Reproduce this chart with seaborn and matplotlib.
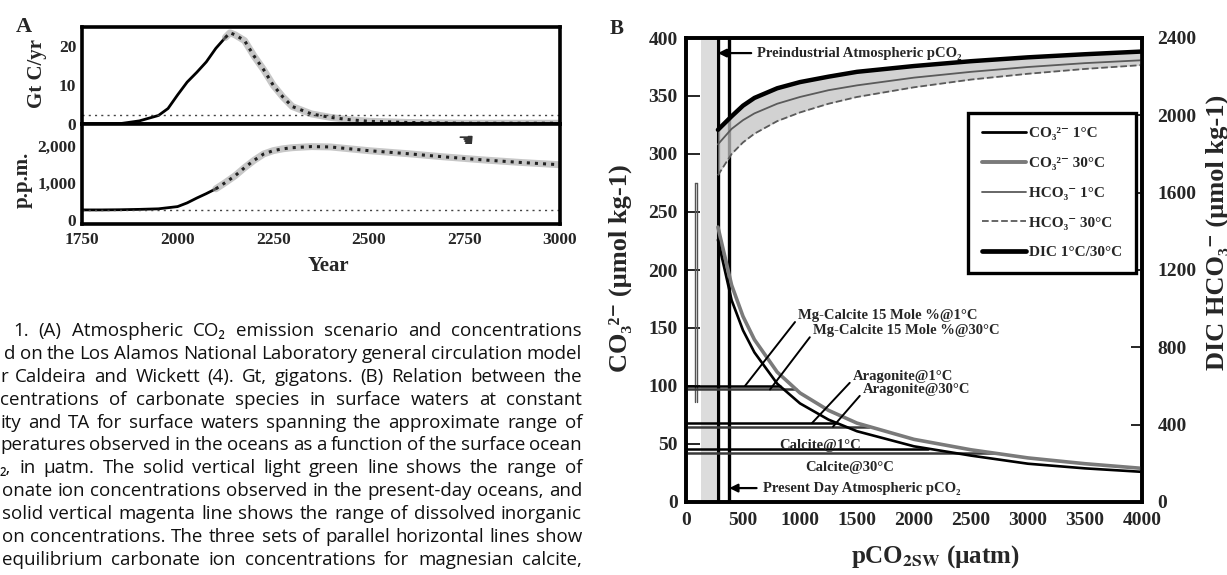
import numpy as np
import pandas as pd
import matplotlib
matplotlib.use("Agg")
import matplotlib.pyplot as plt
import seaborn as sns
from matplotlib.lines import Line2D

# ---------------- Panel A: emission scenario and atmospheric CO2 ----------------
emis_years_hist = [1750, 1800, 1850, 1900, 1950, 1975, 2000, 2025, 2050, 2075, 2100, 2125]
emis_hist = [0.0, 0.0, 0.1, 0.8, 2.2, 4.0, 7.5, 10.8, 13.3, 16.0, 19.5, 22.3]
emis_years_proj = [2125, 2137, 2150, 2175, 2200, 2225, 2250, 2275, 2300, 2350, 2400,
                   2450, 2500, 2600, 2750, 3000]
emis_proj = [22.3, 23.5, 23.0, 21.5, 17.5, 14.0, 10.0, 7.0, 4.5, 2.6, 1.7,
             1.1, 0.7, 0.4, 0.2, 0.2]

conc_years_hist = [1750, 1800, 1850, 1900, 1950, 2000, 2025, 2050, 2075, 2100]
conc_hist = [280, 280, 285, 295, 310, 370, 470, 600, 720, 850]
conc_years_proj = [2100, 2125, 2150, 2175, 2200, 2225, 2250, 2275, 2300, 2350, 2400,
                   2500, 2600, 2700, 2800, 2900, 3000]
conc_proj = [850, 1020, 1200, 1420, 1620, 1790, 1880, 1930, 1960, 1990, 1980,
             1880, 1800, 1710, 1630, 1560, 1500]

emis_ref_level = 2.3
conc_ref_level = 280

year_ticks = [1750, 2000, 2250, 2500, 2750, 3000]
emis_ticks = [0, 10, 20]
conc_ticks = [0, 1000, 2000]
conc_tick_labels = ["0", "1,000", "2,000"]

# ---------------- Panel B: carbonate system vs pCO2 ----------------
pco2 = [280, 400, 500, 600, 800, 1000, 1250, 1500, 2000, 2500, 3000, 3500, 4000]
co3_1c = [226, 174, 148, 129, 102, 85, 71, 61, 48, 40, 33, 29, 26]
co3_30c = [237, 187, 160, 140, 112, 94, 79, 68, 54, 45, 38, 33, 29]
hco3_1c = [1850, 1930, 1975, 2010, 2060, 2095, 2130, 2155, 2195, 2225, 2250, 2270, 2285]
hco3_30c = [1690, 1800, 1860, 1905, 1970, 2015, 2060, 2095, 2145, 2185, 2215, 2240, 2260]
dic = [1925, 1995, 2050, 2090, 2140, 2172, 2200, 2225, 2255, 2280, 2300, 2316, 2330]

minerals = ["Mg-Calcite 15 Mole %", "Aragonite", "Calcite"]
sat_1c = [100, 68, 46]
sat_30c = [97, 65, 42]

preindustrial_pco2 = 280
present_pco2 = 380
co3_obs_range = [86, 275]
dic_range_pco2 = [130, 260]

legend_labels = ["CO\u2083\u00b2\u207b 1\u00b0C", "CO\u2083\u00b2\u207b 30\u00b0C",
                 "HCO\u2083\u207b 1\u00b0C", "HCO\u2083\u207b 30\u00b0C", "DIC 1\u00b0C/30\u00b0C"]

caption_lines = [
    "1. (A) Atmospheric CO\u2082 emission scenario and concentrations",
    "d on the Los Alamos National Laboratory general circulation model",
    "r Caldeira and Wickett (4). Gt, gigatons. (B) Relation between the",
    "centrations of carbonate species in surface waters at constant",
    "ity and TA for surface waters spanning the approximate range of",
    "peratures observed in the oceans as a function of the surface ocean",
    "\u2082, in \u00b5atm. The solid vertical light green line shows the range of",
    "onate ion concentrations observed in the present-day oceans, and",
    "solid vertical magenta line shows the range of dissolved inorganic",
    "on concentrations. The three sets of parallel horizontal lines show",
    "equilibrium carbonate ion concentrations for magnesian calcite,",
]
caption_left = [13, 4, 0, 0, 0, 0, 0, 2, 2, 2, 2]

# ---------------- styling ----------------
sns.set_style("white")
plt.rcParams["font.family"] = ["Liberation Serif", "DejaVu Serif"]
plt.rcParams["font.weight"] = "bold"
plt.rcParams["mathtext.fontset"] = "stix"

W, H = 1227, 575
fig = plt.figure(figsize=(W / 100, H / 100), dpi=100)
fig.patch.set_facecolor("white")


def px_axes(left, top, right, bottom):
    return fig.add_axes([left / W, 1 - bottom / H, (right - left) / W, (bottom - top) / H])


def fig_text(x, y, s, **kw):
    return fig.text(x / W, 1 - y / H, s, **kw)


SPINE_LW = 2.6

# ---------------- Panel A ----------------
axA1 = px_axes(82, 27, 560, 124)
axA2 = px_axes(82, 124, 560, 224)

sns.lineplot(x=emis_years_hist, y=emis_hist, ax=axA1, color="black", lw=2.0)
sns.lineplot(x=emis_years_proj, y=emis_proj, ax=axA1, color="#9a9a9a", lw=5, alpha=0.55)
sns.lineplot(x=emis_years_proj, y=emis_proj, ax=axA1, color="#222222", lw=2.2, linestyle=":")
axA1.axhline(emis_ref_level, color="#444444", lw=1.0, linestyle=(0, (1.5, 3)))

sns.lineplot(x=conc_years_hist, y=conc_hist, ax=axA2, color="black", lw=2.0)
sns.lineplot(x=conc_years_proj, y=conc_proj, ax=axA2, color="#9a9a9a", lw=5, alpha=0.55)
sns.lineplot(x=conc_years_proj, y=conc_proj, ax=axA2, color="#222222", lw=2.2, linestyle=":")
axA2.axhline(conc_ref_level, color="#444444", lw=1.0, linestyle=(0, (1.5, 3)))

for ax in (axA1, axA2):
    ax.set_xlim(year_ticks[0], year_ticks[-1])
    for sp in ax.spines.values():
        sp.set_linewidth(SPINE_LW)
        sp.set_color("black")
    ax.set_xlabel("")
    ax.set_ylabel("")

axA1.set_ylim(0, 25)
axA1.set_yticks(emis_ticks)
axA1.set_xticks(year_ticks[1:-1])
axA1.tick_params(axis="x", direction="inout", length=9, width=1.5, labelbottom=False)
axA1.tick_params(axis="y", direction="in", length=5, width=1.5, labelsize=12.5, pad=4)

axA2.set_ylim(-100, 2600)
axA2.set_yticks(conc_ticks, conc_tick_labels)
axA2.set_xticks(year_ticks, [str(y) for y in year_ticks])
axA2.tick_params(axis="x", direction="in", length=6, width=1.5, labelsize=12.5, pad=6)
axA2.tick_params(axis="y", direction="in", length=5, width=1.5, labelsize=12.5, pad=4)

fig_text(24, 27, "A", fontsize=16, ha="center", va="center")
fig_text(37, 73, "Gt C/yr", fontsize=15, rotation=90, ha="center", va="center")
fig_text(23, 180, "p.p.m.", fontsize=15, rotation=90, ha="center", va="center")
fig_text(328, 266, "Year", fontsize=15, ha="center", va="center")
fig_text(466, 141, "\u261a", fontsize=13, family="DejaVu Sans", ha="center", va="center",
         color="#333333")

# ---------------- Panel B ----------------
axB = px_axes(686, 38, 1142, 502)
axB2 = axB.twinx()

axB.set_xlim(0, 4000)
axB.set_ylim(0, 400)
axB2.set_ylim(0, 2400)

# range bands and reference verticals
axB.axvspan(dic_range_pco2[0], dic_range_pco2[1], color="#d4d4d4", alpha=0.8, lw=0, zorder=0)
axB.plot([80, 80], co3_obs_range, color="#555555", lw=1.0, zorder=2)
axB.plot([95, 95], co3_obs_range, color="#555555", lw=1.0, zorder=2)
axB.plot([80, 95], [co3_obs_range[1]] * 2, color="#555555", lw=1.0, zorder=2)
axB.axvline(preindustrial_pco2, color="black", lw=2.4, zorder=3)
axB.axvline(present_pco2, color="black", lw=2.4, zorder=3)

# bicarbonate and DIC on the right axis
axB2.fill_between(pco2, hco3_30c, dic, color="#c4c4c4", alpha=0.75, lw=0, zorder=1)
sns.lineplot(x=pco2, y=hco3_1c, ax=axB2, color="#5a5a5a", lw=1.3)
sns.lineplot(x=pco2, y=hco3_30c, ax=axB2, color="#5a5a5a", lw=1.3, linestyle="--")
sns.lineplot(x=pco2, y=dic, ax=axB2, color="black", lw=3.2)

# carbonate ion on the left axis
sns.lineplot(x=pco2, y=co3_30c, ax=axB, color="#7a7a7a", lw=2.6, zorder=4)
sns.lineplot(x=pco2, y=co3_1c, ax=axB, color="black", lw=1.9, zorder=5)

# saturation levels, each drawn until it meets the matching carbonate curve
pco2_rev = np.array(pco2[::-1], dtype=float)
for s1, s30 in zip(sat_1c, sat_30c):
    x1 = np.interp(s1, np.array(co3_1c[::-1], float), pco2_rev)
    x30 = np.interp(s30, np.array(co3_30c[::-1], float), pco2_rev)
    axB.plot([0, x1], [s1, s1], color="black", lw=1.8, zorder=3)
    axB.plot([0, x30], [s30, s30], color="#3a3a3a", lw=1.8, zorder=3)

ann_font = dict(fontsize=10.5, fontweight="bold")
line_arrow = dict(arrowstyle="-", color="black", lw=1.4, shrinkA=0, shrinkB=0,
                  relpos=(0.0, 0.3))
head_arrow = dict(arrowstyle="-|>", color="black", lw=1.6, mutation_scale=12,
                  shrinkA=2, shrinkB=0, relpos=(0.0, 0.5))

axB.annotate("Preindustrial Atmospheric pCO\u2082", xy=(preindustrial_pco2, 387),
             xytext=(625, 387), va="center", ha="left", arrowprops=head_arrow,
             zorder=6, **ann_font)
axB.annotate("Present Day Atmospheric pCO\u2082", xy=(present_pco2, 12),
             xytext=(672, 12), va="center", ha="left", arrowprops=head_arrow,
             zorder=6, **ann_font)
axB.annotate(f"{minerals[0]}@1\u00b0C", xy=(517, sat_1c[0]), xytext=(985, 161),
             va="center", ha="left", arrowprops=line_arrow, zorder=6, **ann_font)
axB.annotate(f"{minerals[0]}@30\u00b0C", xy=(737, sat_30c[0]), xytext=(1115, 148),
             va="center", ha="left", arrowprops=line_arrow, zorder=6, **ann_font)
axB.annotate(f"{minerals[1]}@1\u00b0C", xy=(1105, sat_1c[1]), xytext=(1465, 108),
             va="center", ha="left", arrowprops=line_arrow, zorder=6, **ann_font)
axB.annotate(f"{minerals[1]}@30\u00b0C", xy=(1290, sat_30c[1]), xytext=(1553, 97),
             va="center", ha="left", arrowprops=line_arrow, zorder=6, **ann_font)
axB.text(1175, 49, f"{minerals[2]}@1\u00b0C", ha="center", va="center", zorder=6, **ann_font)
axB.text(1439, 30, f"{minerals[2]}@30\u00b0C", ha="center", va="center", zorder=6, **ann_font)

# axes styling
for a in (axB, axB2):
    for sp in a.spines.values():
        sp.set_linewidth(SPINE_LW)
        sp.set_color("black")
    a.set_xlabel("")
    a.set_ylabel("")
axB.set_xticks(range(0, 4001, 500))
axB.set_yticks(range(0, 401, 50))
axB2.set_yticks(range(0, 2401, 400))
axB.tick_params(axis="x", direction="in", length=5, width=1.4, labelsize=14, pad=7)
axB.tick_params(axis="y", direction="in", length=10, width=1.4, labelsize=14, pad=6)
axB2.tick_params(axis="y", direction="in", length=8, width=1.4, labelsize=14, pad=11)

legend_handles = [
    Line2D([], [], color="black", lw=2.0),
    Line2D([], [], color="#7a7a7a", lw=2.8),
    Line2D([], [], color="#5a5a5a", lw=1.3),
    Line2D([], [], color="#5a5a5a", lw=1.3, linestyle="--"),
    Line2D([], [], color="black", lw=3.4),
]
leg = axB2.legend(legend_handles, legend_labels, loc="upper left",
                  bbox_to_anchor=(968 / W, 1 - 113 / H), bbox_transform=fig.transFigure,
                  frameon=True, fancybox=False, edgecolor="black", framealpha=1,
                  fontsize=11, handlelength=2.9, handletextpad=0.2, labelspacing=1.05,
                  borderpad=0.9, borderaxespad=0)
leg.get_frame().set_linewidth(2.4)
leg.set_zorder(10)

fig_text(617, 29, "B", fontsize=15, ha="center", va="center")
fig_text(620, 268, "CO\u2083\u00b2\u207b (\u00b5mol kg-1)", fontsize=19, rotation=90,
         ha="center", va="center")
fig_text(1217, 232, "DIC HCO\u2083\u207b (\u00b5mol kg-1)", fontsize=19, rotation=90,
         ha="center", va="center")
fig_text(935, 557, "pCO$_{\\mathbf{2SW}}$ (\u00b5atm)",
         fontsize=18, ha="center", va="center", math_fontfamily="stix")

# ---------------- caption (justified lines) ----------------
cap_family = ["Open Sans", "DejaVu Sans"]
cap_right = 582
cap_base_size = 13.5
renderer = fig.canvas.get_renderer()

measure = []
for left, line in zip(caption_left, caption_lines):
    words = line.split(" ")
    widths = []
    for w in words:
        t = fig.text(0, 0, w, fontsize=cap_base_size, family=cap_family, fontweight="normal")
        widths.append(t.get_window_extent(renderer).width)
        t.remove()
    measure.append((left, words, widths))

space_px = 0.2 * cap_base_size * 100 / 72
scale = min(1.0, min((cap_right - l - (len(ws) - 1) * space_px) / sum(wd)
                     for l, ws, wd in measure))
cap_size = cap_base_size * scale

for i, (left, words, widths) in enumerate(measure):
    widths = [w * scale for w in widths]
    gap = (cap_right - left - sum(widths)) / max(len(words) - 1, 1)
    x = left
    y = 336 + 22.9 * i
    for w, wd in zip(words, widths):
        fig_text(x, y, w, fontsize=cap_size, family=cap_family, fontweight="normal",
                 ha="left", va="baseline", color="#111111")
        x += wd + gap

fig.savefig("out.png", dpi=100, facecolor="white")
